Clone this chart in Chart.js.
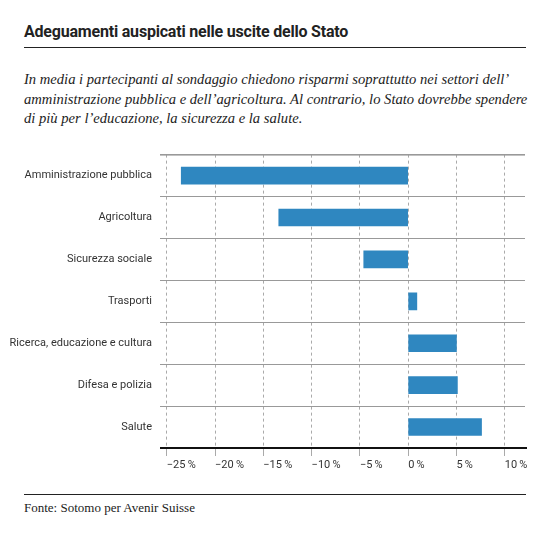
<!DOCTYPE html>
<html><head><meta charset="utf-8">
<script src="https://cdn.jsdelivr.net/npm/chart.js@4"></script>
<style>
body{margin:0;width:550px;height:536px;position:relative;background:#fff;font-family:"Liberation Sans Narrow","Roboto",sans-serif;color:#222}
#title{position:absolute;left:24px;top:22px;font-size:16px;font-weight:bold;letter-spacing:-0.2px}
#rule1{position:absolute;left:24px;top:47px;width:502px;border-top:1px solid #222}
#sub{position:absolute;left:24px;top:70px;width:515px;font-family:"Liberation Serif",serif;font-style:italic;font-size:14.6px;line-height:19.5px}
#wrap{position:absolute;left:0;top:140px;width:550px;height:340px}
#rule2{position:absolute;left:24px;top:494px;width:502px;border-top:1px solid #222}
#src{position:absolute;left:24px;top:500px;font-family:"Liberation Serif",serif;font-size:13px}
</style></head><body>
<div id="title">Adeguamenti auspicati nelle uscite dello Stato</div>
<div id="rule1"></div>
<div id="sub">In media i partecipanti al sondaggio chiedono risparmi soprattutto nei settori dell’ amministrazione pubblica e dell’agricoltura. Al contrario, lo Stato dovrebbe spendere di più per l’educazione, la sicurezza e la salute.</div>
<div id="wrap"><canvas id="c"></canvas></div>
<div id="rule2"></div>
<div id="src">Fonte: Sotomo per Avenir Suisse</div>
<script>
// values, in percent
const categories = ['Amministrazione pubblica','Agricoltura','Sicurezza sociale','Trasporti','Ricerca, educazione e cultura','Difesa e polizia','Salute'];
const values = [-23.5, -13.4, -4.6, 0.9, 5.0, 5.1, 7.6];
const tickValues = [-25, -20, -15, -10, -5, 0, 5, 10];

const font = {family: '"Liberation Sans Narrow", Roboto, sans-serif', size: 11};

// top row line and the black base line
const frame = {
  id: 'frame',
  afterDraw(chart) {
    const {ctx, chartArea: a} = chart;
    ctx.save();
    ctx.strokeStyle = '#999'; ctx.lineWidth = 1;
    ctx.beginPath(); ctx.moveTo(a.left, a.top + 0.5); ctx.lineTo(a.right, a.top + 0.5); ctx.stroke();
    ctx.strokeStyle = '#111'; ctx.lineWidth = 2;
    ctx.beginPath(); ctx.moveTo(a.left, a.bottom); ctx.lineTo(a.right + 2, a.bottom); ctx.stroke();
    ctx.restore();
  }
};

new Chart(document.getElementById('c'), {
  type: 'bar',
  data: {labels: categories, datasets: [{data: values, backgroundColor: '#2f87c0', barThickness: 17}]},
  options: {
    indexAxis: 'y', responsive: true, maintainAspectRatio: false, animation: false,
    layout: {padding: {top: 5, right: 25}},
    plugins: {legend: {display: false}, tooltip: {enabled: false}},
    scales: {
      x: {
        min: -25.7, max: 12.1,
        afterFit: s => { s.height = 32; },
        afterBuildTicks: s => { s.ticks = tickValues.map(v => ({value: v})); },
        border: {display: false, dash: [3, 3]},
        grid: {color: '#aaa', lineWidth: 1, drawTicks: true, tickLength: 8},
        ticks: {align: 'start', padding: 3, color: '#333', font: font,
          callback: v => (v < 0 ? '\u2212' + Math.abs(v) : v) + '\u2009%'}
      },
      y: {
        afterFit: s => { s.width = 160; },
        border: {display: false},
        grid: {offset: true, color: '#999', drawTicks: false},
        ticks: {padding: 8, color: '#333', font: font}
      }
    }
  },
  plugins: [frame]
});
</script>
</body></html>
